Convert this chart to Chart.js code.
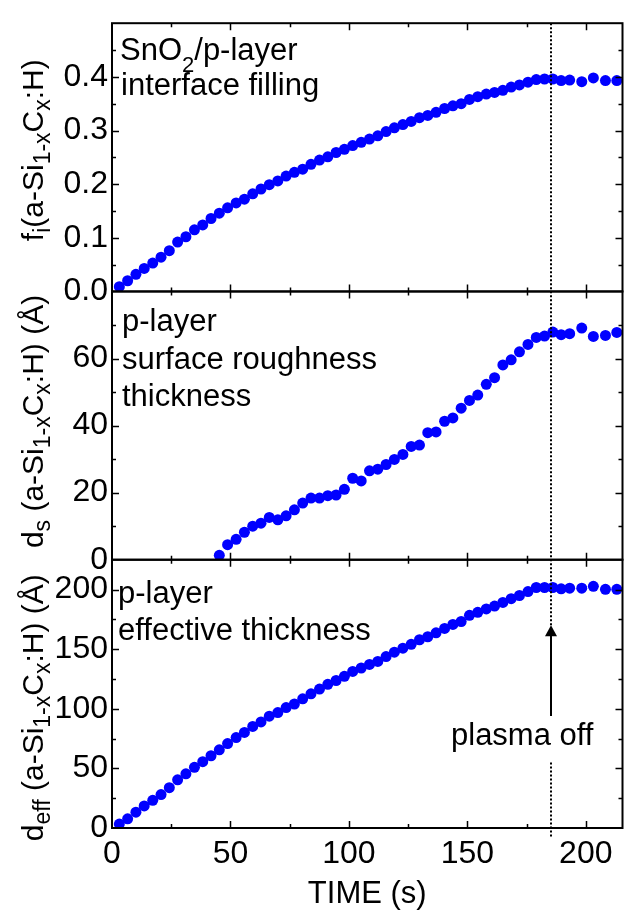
<!DOCTYPE html>
<html>
<head>
<meta charset="utf-8">
<title>p-layer growth</title>
<script src="https://cdn.jsdelivr.net/npm/chart.js@4.4.1/dist/chart.umd.min.js"></script>
<style>
  html, body { margin: 0; padding: 0; background: #fff; }
  #wrap { position: relative; width: 628px; height: 911px; }
</style>
</head>
<body>
<div id="wrap"><canvas id="growthChart" width="628" height="911"></canvas></div>
<script>
/* ---------- Data ---------- */
const timeS = [
  3.1, 6.6, 10.1, 13.6, 17.2, 20.7, 24.2, 27.7, 31.2, 34.8,
  38.3, 41.8, 45.3, 48.8, 52.4, 55.9, 59.4, 62.9, 66.4, 70.0,
  73.5, 77.0, 80.5, 84.0, 87.6, 91.1, 94.6, 98.1, 101.6, 105.2,
  108.7, 112.2, 115.7, 119.2, 122.8, 126.3, 129.8, 133.3, 136.8, 140.4,
  143.9, 147.4, 150.9, 154.4, 158.0, 161.5, 165.0, 168.5, 172.0, 175.6,
  179.1, 182.6, 186.1, 189.6, 193.2, 198.3, 203.2, 208.3, 213.1
];

// interface filling fraction f_i
const fillFraction = [
  0.009, 0.020, 0.032, 0.043, 0.053, 0.064, 0.076, 0.092, 0.102, 0.115,
  0.124, 0.136, 0.146, 0.156, 0.165, 0.172, 0.182, 0.191, 0.199, 0.206,
  0.215, 0.222, 0.228, 0.237, 0.245, 0.251, 0.259, 0.265, 0.272, 0.278,
  0.284, 0.290, 0.298, 0.305, 0.311, 0.317, 0.324, 0.328, 0.334, 0.341,
  0.346, 0.350, 0.358, 0.363, 0.368, 0.371, 0.375, 0.381, 0.385, 0.390,
  0.395, 0.396, 0.396, 0.393, 0.394, 0.391, 0.398, 0.393, 0.393
];

// surface roughness only shows up from ~45 s on
const roughnessTimeS = timeS.slice(12);
const roughnessA = [
  1.3, 4.5, 6.1, 8.2, 10.0, 10.9, 12.6, 11.9, 13.1, 14.9,
  16.9, 18.4, 18.4, 19.1, 19.3, 21.0, 24.3, 23.5, 26.5, 27.0,
  28.4, 29.9, 31.4, 33.8, 34.2, 37.9, 38.1, 41.3, 42.3, 45.2,
  47.5, 49.1, 52.3, 54.3, 58.1, 59.6, 62.0, 64.2, 66.3, 66.7,
  67.9, 67.1, 67.4, 69.1, 66.6, 66.9, 67.8
];

const effThicknessA = [
  3.3, 7.7, 13.3, 18.5, 23.2, 28.0, 33.8, 40.4, 45.4, 50.9,
  55.6, 60.6, 65.6, 70.8, 75.8, 80.2, 85.2, 89.0, 93.8, 96.8,
  101.0, 104.0, 108.3, 112.5, 116.5, 120.5, 123.7, 127.2, 131.3, 134.2,
  137.2, 139.7, 143.8, 147.5, 150.8, 154.1, 157.9, 160.4, 163.7, 167.4,
  170.7, 173.2, 178.4, 180.9, 183.7, 186.1, 189.2, 192.3, 195.0, 198.3,
  201.7, 201.7, 201.7, 200.6, 201.1, 201.1, 202.7, 200.2, 200.2
];

const timeTicks = [0, 50, 100, 150, 200];
const fillTicks = [0, 0.1, 0.2, 0.3, 0.4];
const roughTicks = [0, 20, 40, 60];
const effTicks = [0, 50, 100, 150, 200];

const plasmaOffS = 185.4;

/* ---------- Styling ---------- */
const FONT = "'Liberation Sans', Arial, sans-serif";
const tickFont = { family: FONT, size: 32 };
const dotBlue = "#0000ff";

Chart.defaults.font.family = FONT;
Chart.defaults.color = "#000";

function toPoints(xs, ys) {
  return xs.map((x, i) => ({ x: x, y: ys[i] }));
}

function panelAxis(min, max, tickValues, format) {
  return {
    type: "linear",
    position: "left",
    stack: "panels",
    stackWeight: 1,
    min: min,
    max: max,
    grid: { display: false, drawTicks: false },
    border: { display: false },
    ticks: {
      padding: 4,
      autoSkip: false,
      color: "#000",
      font: tickFont,
      callback: format
    },
    afterBuildTicks: (scale) => {
      scale.ticks = tickValues.map((v) => ({ value: v }));
    },
    afterFit: (scale) => {
      scale.width = 112;
    }
  };
}

function dotSet(data, axisId) {
  return {
    data: data,
    yAxisID: axisId,
    showLine: false,
    pointRadius: 5.5,
    pointHoverRadius: 5.5,
    pointBorderWidth: 0,
    pointBackgroundColor: dotBlue,
    pointBorderColor: dotBlue
  };
}

// minor tick step for each panel, majors fall on every second one
const panelSteps = [["yTop", 0.05], ["yMid", 10], ["yBot", 25]];

/* ---------- Frames and inward ticks ---------- */
const panelFrames = {
  id: "panelFrames",
  afterDatasetsDraw(chart) {
    const { ctx, scales } = chart;
    const xs = scales.x;

    ctx.save();
    ctx.strokeStyle = "#000";

    panelSteps.forEach(([id, step]) => {
      const ys = scales[id];

      ctx.lineWidth = 2;
      ctx.strokeRect(xs.left, ys.top, xs.right - xs.left, ys.bottom - ys.top);

      ctx.lineWidth = 1.5;
      ctx.beginPath();
      const count = Math.round((ys.max - ys.min) / step);
      for (let k = 1; k < count; k++) {
        const py = Math.round(ys.getPixelForValue(ys.min + k * step)) + 0.5;
        const len = k % 2 === 0 ? 7 : 4;
        ctx.moveTo(xs.left, py);
        ctx.lineTo(xs.left + len, py);
        ctx.moveTo(xs.right, py);
        ctx.lineTo(xs.right - len, py);
      }
      for (let k = 1; k * 25 < xs.max; k++) {
        const px = Math.round(xs.getPixelForValue(k * 25)) + 0.5;
        const len = k % 2 === 0 ? 7 : 4;
        ctx.moveTo(px, ys.top);
        ctx.lineTo(px, ys.top + len);
        ctx.moveTo(px, ys.bottom);
        ctx.lineTo(px, ys.bottom - len);
      }
      ctx.stroke();
    });

    // plasma-off marker
    const px = Math.round(xs.getPixelForValue(plasmaOffS));
    const yb = scales.yBot;
    const tipY = yb.getPixelForValue(170);
    const baseY = yb.getPixelForValue(94);
    const textY = yb.getPixelForValue(70);

    ctx.lineWidth = 2;
    ctx.setLineDash([2, 2]);
    ctx.beginPath();
    ctx.moveTo(px, scales.yTop.top);
    ctx.lineTo(px, tipY);
    ctx.moveTo(px, textY + 18);
    ctx.lineTo(px, yb.bottom + 10);
    ctx.stroke();
    ctx.setLineDash([]);

    ctx.lineWidth = 2;
    ctx.beginPath();
    ctx.moveTo(px, tipY + 8);
    ctx.lineTo(px, baseY);
    ctx.stroke();
    ctx.fillStyle = "#000";
    ctx.beginPath();
    ctx.moveTo(px, tipY);
    ctx.lineTo(px - 6, tipY + 11);
    ctx.lineTo(px + 6, tipY + 11);
    ctx.closePath();
    ctx.fill();

    ctx.font = "31px " + FONT;
    ctx.textBaseline = "alphabetic";
    ctx.textAlign = "left";
    ctx.fillText("plasma off", px - 100, textY);

    ctx.restore();
  }
};

/* ---------- Panel labels and axis titles ---------- */
function drawRich(ctx, parts, x, y, size, subSize, subDrop) {
  let cx = x;
  parts.forEach(([text, sub]) => {
    ctx.font = (sub ? subSize : size) + "px " + FONT;
    ctx.fillText(text, cx, sub ? y + subDrop : y);
    cx += ctx.measureText(text).width;
  });
}

function richWidth(ctx, parts, size, subSize) {
  let w = 0;
  parts.forEach(([text, sub]) => {
    ctx.font = (sub ? subSize : size) + "px " + FONT;
    w += ctx.measureText(text).width;
  });
  return w;
}

const material = [["(a-Si", 0], ["1-x", 1], ["C", 0], ["x", 1], [":H)", 0]];
const yTitles = [
  ["yTop", [["f", 0], ["i", 1]].concat(material), 127],
  ["yMid", [["d", 0], ["s", 1], [" ", 0]].concat(material, [[" (Å)", 0]]), 130],
  ["yBot", [["d", 0], ["eff", 1], [" ", 0]].concat(material, [[" (Å)", 0]]), 148]
];

const panelText = {
  id: "panelText",
  afterDraw(chart) {
    const { ctx, scales } = chart;
    const left = scales.x.left;
    ctx.save();
    ctx.fillStyle = "#000";
    ctx.textAlign = "left";
    ctx.textBaseline = "alphabetic";

    const top1 = scales.yTop.top;
    drawRich(ctx, [["SnO", 0], ["2", 1], ["/p-layer", 0]], left + 8, top1 + 37, 31, 22, 12);
    drawRich(ctx, [["interface filling", 0]], left + 9, top1 + 72, 31, 22, 0);

    const top2 = scales.yMid.top;
    drawRich(ctx, [["p-layer", 0]], left + 10, top2 + 40, 31, 22, 0);
    drawRich(ctx, [["surface roughness", 0]], left + 10, top2 + 78, 31, 22, 0);
    drawRich(ctx, [["thickness", 0]], left + 10, top2 + 115, 31, 22, 0);

    const top3 = scales.yBot.top;
    drawRich(ctx, [["p-layer", 0]], left + 6, top3 + 43, 31, 22, 0);
    drawRich(ctx, [["effective thickness", 0]], left + 6, top3 + 80, 31, 22, 0);

    // rotated y titles with subscripts
    yTitles.forEach(([id, parts, offset]) => {
      const w = richWidth(ctx, parts, 30, 23);
      ctx.save();
      ctx.translate(43, scales[id].top + offset);
      ctx.rotate(-Math.PI / 2);
      drawRich(ctx, parts, -w / 2, 0, 30, 23, 7);
      ctx.restore();
    });

    ctx.restore();
  }
};

/* ---------- Chart ---------- */
new Chart(document.getElementById("growthChart"), {
  type: "scatter",
  data: {
    datasets: [
      dotSet(toPoints(timeS, fillFraction), "yTop"),
      dotSet(toPoints(roughnessTimeS, roughnessA), "yMid"),
      dotSet(toPoints(timeS, effThicknessA), "yBot")
    ]
  },
  options: {
    responsive: false,
    animation: false,
    devicePixelRatio: 1,
    layout: { padding: { top: 13, right: 1, bottom: 0, left: 0 } },
    plugins: {
      legend: { display: false },
      tooltip: { enabled: false }
    },
    scales: {
      x: {
        type: "linear",
        position: "bottom",
        min: 0,
        max: 215.5,
        grid: { display: false, drawTicks: false },
        border: { display: false },
        ticks: { padding: 7, autoSkip: false, maxRotation: 0, color: "#000", font: tickFont },
        afterBuildTicks: (scale) => {
          scale.ticks = timeTicks.map((v) => ({ value: v }));
        },
        afterFit: (scale) => {
          scale.height = 83;
        },
        title: {
          display: true,
          text: "TIME (s)",
          color: "#000",
          font: { family: FONT, size: 31, lineHeight: 1 },
          padding: { top: 0, bottom: 1 }
        }
      },
      // stacked left axes are laid out bottom-up in declaration order
      yBot: panelAxis(0, 225, effTicks, (v) => String(v)),
      yMid: panelAxis(0, 80, roughTicks, (v) => String(v)),
      yTop: panelAxis(0, 0.5, fillTicks, (v) => v.toFixed(1))
    }
  },
  plugins: [panelFrames, panelText]
});
</script>
</body>
</html>
